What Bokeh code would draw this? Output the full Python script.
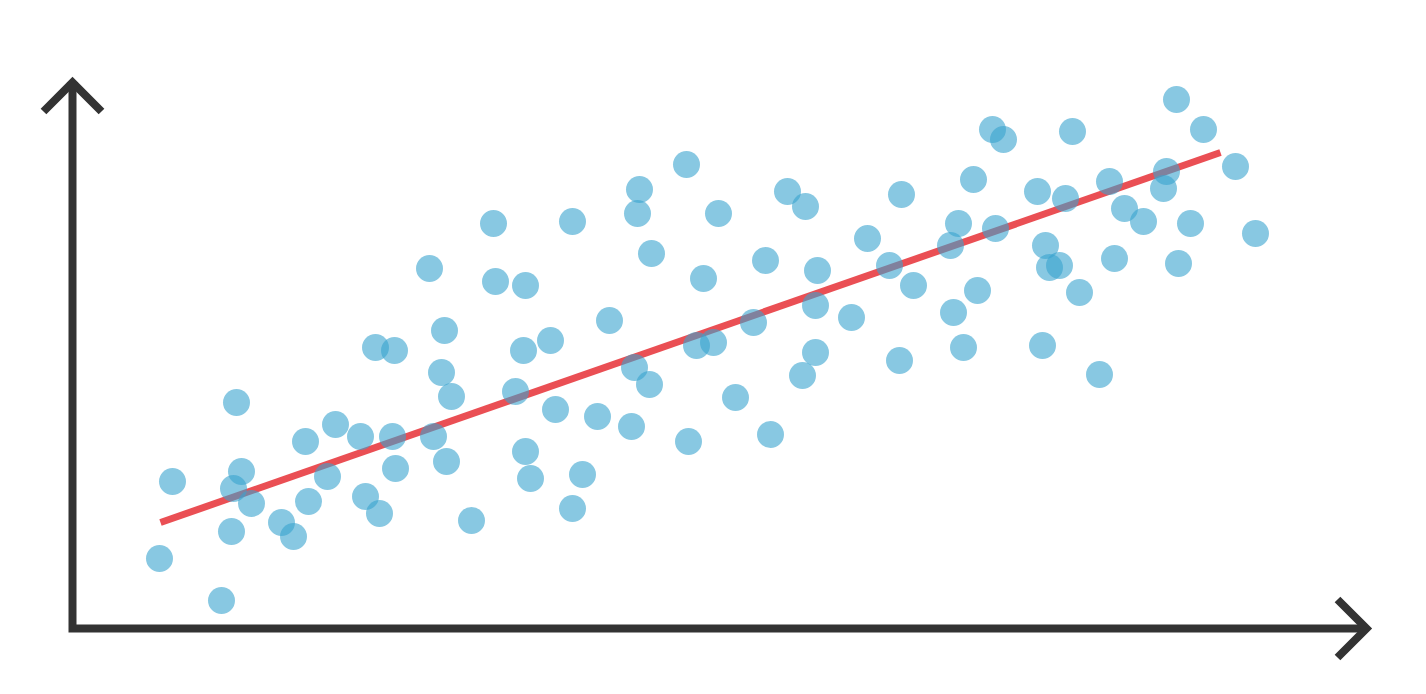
from bokeh.plotting import figure
from bokeh.models import Range1d
from bokeh.embed import file_html
from bokeh.resources import INLINE

# Scatter data (x, y values)
x_vals = [8.7, 10.0, 14.9, 15.9, 16.1, 16.4, 16.9, 17.9, 20.9, 22.1,
          23.3, 23.6, 25.5, 26.3, 28.8, 29.3, 30.3, 30.7, 32.0, 32.2,
          32.3, 35.7, 36.1, 36.9, 37.2, 37.4, 37.9, 39.9, 42.1, 42.3,
          44.3, 45.1, 45.3, 45.3, 45.8, 47.8, 48.3, 50.0, 50.0, 51.0,
          52.5, 53.7, 55.9, 56.2, 56.5, 56.7, 57.7, 57.9, 61.4, 61.6,
          62.4, 63.1, 64.1, 64.6, 66.3, 68.1, 69.3, 69.8, 71.5, 73.0,
          73.3, 74.3, 74.3, 74.5, 77.9, 79.5, 81.7, 82.7, 82.9, 84.1,
          87.8, 88.1, 88.6, 89.1, 90.1, 90.5, 92.0, 92.3, 93.1, 96.5,
          97.0, 97.3, 97.7, 98.7, 99.3, 100.0, 100.7, 102.7, 103.7, 104.2,
          105.2, 107.1, 109.1, 109.4, 110.4, 110.6, 111.8, 113.1, 116.3, 118.3]
y_vals = [7.0, 14.7, 2.8, 9.7, 14.0, 22.6, 15.7, 12.5, 10.6, 9.2,
          18.7, 12.7, 15.2, 20.4, 19.2, 13.2, 28.1, 11.5, 19.2, 27.8,
          16.0, 36.0, 19.2, 25.6, 29.8, 16.7, 23.2, 10.8, 40.5, 34.7,
          23.7, 27.8, 34.3, 17.7, 15.0, 28.8, 21.9, 40.7, 12.0, 15.4,
          21.2, 30.8, 20.2, 26.1, 41.5, 43.9, 24.4, 37.5, 46.4, 18.7,
          28.3, 35.0, 28.6, 41.5, 23.1, 30.6, 36.8, 19.4, 43.7, 25.3,
          42.2, 32.3, 27.6, 35.8, 31.1, 39.0, 36.3, 26.8, 43.4, 34.3,
          38.3, 31.6, 40.5, 28.1, 44.9, 33.8, 49.9, 40.0, 48.9, 43.7,
          28.3, 38.3, 36.1, 36.3, 43.0, 49.7, 33.6, 25.4, 44.7, 37.0,
          42.0, 40.7, 44.0, 45.7, 52.9, 36.5, 40.5, 49.9, 46.2, 39.5]

# Trend line end points
trend_x = [8.8, 114.8]
trend_y = [10.6, 47.6]

# Axis extents
x_axis_end = 129.4
y_axis_end = 54.6
head = 2.9

p = figure(width=1410, height=678, output_backend="svg", toolbar_location=None,
           x_range=Range1d(-7.2, 133.8), y_range=Range1d(-5.0, 62.8),
           min_border=0, min_border_left=0, min_border_right=0,
           min_border_top=0, min_border_bottom=0)
p.axis.visible = False
p.grid.visible = False
p.outline_line_color = None
p.background_fill_color = "white"
p.border_fill_color = "white"

axis_color = "#333333"
# Axes: L-shaped path
p.line([0, 0, x_axis_end], [y_axis_end, 0, 0], line_width=8, line_color=axis_color,
       line_join="miter", line_cap="butt")
# Arrow heads
p.line([-head, 0, head], [y_axis_end - head, y_axis_end, y_axis_end - head],
       line_width=8, line_color=axis_color, line_join="miter")
p.line([x_axis_end - head, x_axis_end, x_axis_end - head],
       [head, 0, -head], line_width=8, line_color=axis_color, line_join="miter")

# Trend line
p.line(trend_x, trend_y, line_width=7, line_color="#ea4f54")

# Points
p.scatter(x_vals, y_vals, size=27, fill_color="#39a3cf", fill_alpha=0.6,
          line_color=None)

open("out.html", "w").write(file_html(p, INLINE))
